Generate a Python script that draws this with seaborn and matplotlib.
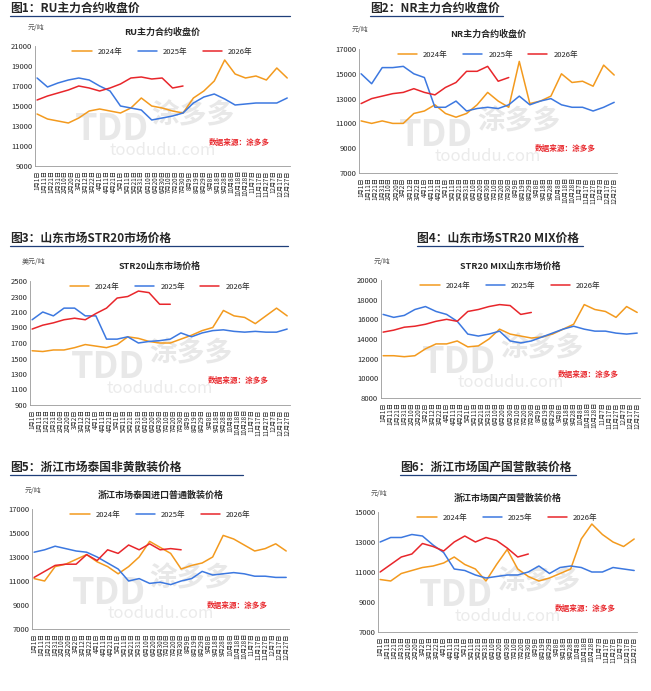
import numpy as np
import pandas as pd
import matplotlib
matplotlib.use("Agg")
import matplotlib.pyplot as plt
import seaborn as sns

sns.set_style("white")
plt.rcParams["font.family"] = ["Noto Sans CJK SC", "DejaVu Sans"]

C24, C25, C26 = "#F39A1E", "#3C78E0", "#E8262B"

# x positions: day of year, sampled every 15 days
DAYS_FULL = list(range(0, 361, 15))

# ── panel data ────────────────────────────────────────────────────────────────
ru_24 = [14200, 13700, 13500, 13300, 13800, 14500, 14700, 14500, 14300, 14800, 15800, 15000, 14800,
         14500, 14300, 15800, 16500, 17500, 19600, 18200, 17800, 18000, 17600, 18800, 17800]
ru_25 = [17800, 16900, 17300, 17600, 17800, 17600, 17000, 16500, 15000, 14800, 14600, 13600, 13800,
         14000, 14300, 15300, 15900, 16200, 15700, 15100, 15200, 15300, 15300, 15300, 15800]
ru_26 = [15600, 16000, 16300, 16600, 17000, 16800, 16500, 16800, 17200, 17800, 17900, 17700, 17800, 16800, 17000]

nr_24 = [11200, 11000, 11200, 11000, 11000, 11800, 12000, 12500, 11800, 11500, 11800, 12500, 13500,
         12800, 12300, 16000, 12600, 12800, 13200, 15000, 14300, 14400, 14000, 15700, 14900]
nr_25 = [15000, 14200, 15500, 15500, 15600, 15000, 14700, 12300, 12300, 12800, 12000, 12200, 12300,
         12200, 12500, 13200, 12500, 12800, 13000, 12500, 12300, 12300, 12000, 12300, 12700]
nr_26 = [12600, 13000, 13200, 13400, 13500, 13800, 13500, 13300, 13900, 14300, 15200, 15200, 15600, 14400, 14700]

str_24 = [1600, 1590, 1610, 1610, 1640, 1680, 1660, 1640, 1680, 1780, 1760, 1720, 1700,
          1700, 1750, 1800, 1860, 1900, 2120, 2050, 2030, 1950, 2050, 2150, 2050]
str_25 = [2000, 2100, 2050, 2150, 2150, 2050, 2050, 1750, 1750, 1780, 1700, 1720, 1730,
          1750, 1830, 1780, 1830, 1860, 1870, 1850, 1840, 1850, 1840, 1840, 1880]
str_26 = [1880, 1930, 1960, 2000, 2020, 2000, 2080, 2150, 2280, 2300, 2370, 2350, 2200, 2200]

mix_24 = [12300, 12300, 12200, 12300, 13000, 13500, 13500, 13800, 13200, 13300, 14000, 15000, 14500,
          14300, 14100, 14200, 14500, 15000, 15500, 17500, 17000, 16800, 16200, 17300, 16700]
mix_25 = [16500, 16200, 16400, 17000, 17300, 16800, 16500, 15800, 14500, 14300, 14500, 14800, 13800,
          13600, 13800, 14200, 14600, 15000, 15300, 15000, 14800, 14800, 14600, 14500, 14600]
mix_26 = [14700, 14900, 15200, 15300, 15500, 15800, 16000, 15800, 16800, 17000, 17300, 17500, 17400, 16500, 16700]

thai_24 = [11200, 11000, 12200, 12400, 12800, 13200, 12600, 12200, 11600, 12200, 13000, 14300, 13800,
           13300, 12000, 12300, 12500, 13000, 14800, 14500, 14000, 13500, 13700, 14100, 13500]
thai_25 = [13400, 13600, 13900, 13700, 13500, 13400, 13000, 12500, 12000, 11000, 11200, 10800, 10900,
           10700, 11000, 11200, 11800, 11500, 11600, 11700, 11600, 11400, 11400, 11300, 11300]
thai_26 = [11300, 11800, 12300, 12400, 12400, 13200, 12700, 13600, 13300, 14000, 13600, 14100, 13600, 13700, 13600]

dom_24 = [10500, 10400, 10900, 11100, 11300, 11400, 11600, 12000, 11500, 11200, 10400, 11500, 12500,
          11200, 10700, 10400, 10600, 10900, 11200, 13200, 14200, 13500, 13000, 12700, 13200]
dom_25 = [13000, 13300, 13300, 13500, 13400, 12800, 12300, 11200, 11100, 10800, 10600, 10700, 10800,
          10800, 11000, 11400, 10900, 11300, 11400, 11300, 11000, 11000, 11300, 11200, 11100]
dom_26 = [11000, 11500, 12000, 12200, 12900, 12700, 12400, 13000, 13400, 13000, 13300, 13100, 12600, 12000, 12200]

TICK_DAYS = list(range(0, 361, 10))
TICK_LABELS = [f"{d.month}月{d.day}日" for d in pd.Timestamp("2025-01-01") + pd.to_timedelta(TICK_DAYS, unit="D")]

PANELS = [
    # fig title, inner title, unit, series, ylim, step, axes rect(px: l, t, r, b), title pos, underline end
    ("图1：RU主力合约收盘价", "RU主力合约收盘价", "元/吨", (ru_24, ru_25, ru_26), (9000, 21000), 2000,
     (35, 46, 290, 166), (10, 8), 290),
    ("图2：NR主力合约收盘价", "NR主力合约收盘价", "元/吨", (nr_24, nr_25, nr_26), (7000, 17000), 2000,
     (359, 49, 617, 173), (370, 8), 503),
    ("图3：山东市场STR20市场价格", "STR20山东市场价格", "美元/吨", (str_24, str_25, str_26), (900, 2500), 200,
     (30, 281, 290, 405), (10, 238), 288),
    ("图4：山东市场STR20 MIX价格", "STR20 MIX山东市场价格", "元/吨", (mix_24, mix_25, mix_26), (8000, 20000), 2000,
     (381, 280, 640, 398), (417, 238), 583),
    ("图5：浙江市场泰国非黄散装价格", "浙江市场泰国进口普通散装价格", "元/吨", (thai_24, thai_25, thai_26), (7000, 17000), 2000,
     (32, 509, 289, 629), (10, 467), 243),
    ("图6：浙江市场国产国营散装价格", "浙江市场国产国营散装价格", "元/吨", (dom_24, dom_25, dom_26), (7000, 15000), 2000,
     (378, 512, 637, 632), (400, 467), 576),
]

W, H = 651, 691
fig = plt.figure(figsize=(W / 100, H / 100), dpi=100)

for title, inner, unit, (s24, s25, s26), ylim, step, (l, t, r, b), (tx, ty), uline in PANELS:
    ax = fig.add_axes([l / W, 1 - b / H, (r - l) / W, (b - t) / H])
    # watermark
    ax.text(0.3, 0.3, "TDD", transform=ax.transAxes, fontsize=26, fontweight="bold",
            color="#e8e8e8", ha="center", va="center", zorder=0)
    ax.text(0.62, 0.42, "涂多多", transform=ax.transAxes, fontsize=20, fontweight="bold",
            color="#e8e8e8", ha="center", va="center", zorder=0)
    ax.text(0.5, 0.13, "toodudu.com", transform=ax.transAxes, fontsize=12,
            color="#ebebeb", ha="center", va="center", zorder=0)
    sns.lineplot(x=DAYS_FULL[:len(s24)], y=s24, ax=ax, color=C24, lw=1.1, label="2024年")
    sns.lineplot(x=DAYS_FULL[:len(s25)], y=s25, ax=ax, color=C25, lw=1.1, label="2025年")
    sns.lineplot(x=DAYS_FULL[:len(s26)], y=s26, ax=ax, color=C26, lw=1.1, label="2026年")
    ax.set_xlim(-3, 364)
    ax.set_ylim(*ylim)
    ax.set_yticks(np.arange(ylim[0], ylim[1] + 1, step))
    ax.tick_params(axis="y", labelsize=5.5, length=0, pad=2)
    ax.set_xticks(TICK_DAYS)
    ax.set_xticklabels(TICK_LABELS, rotation=90, fontsize=4.5)
    ax.tick_params(axis="x", length=2, pad=1)
    for sp in ["top", "right"]:
        ax.spines[sp].set_visible(False)
    for sp in ["left", "bottom"]:
        ax.spines[sp].set_color("#999999")
        ax.spines[sp].set_linewidth(0.6)
    ax.legend(loc="upper center", bbox_to_anchor=(0.5, 1.04), ncol=3, frameon=False,
              fontsize=5.5, handlelength=2.5, columnspacing=2)
    ax.text(0.5, 1.08, inner, transform=ax.transAxes, ha="center", va="bottom",
            fontsize=6.5, fontweight="bold")
    ax.text(0.8, 0.2, "数据来源：涂多多", transform=ax.transAxes, ha="center", va="center",
            fontsize=5.5, color="#e8262b", style="italic", fontweight="bold")
    ax.text(-0.03, 1.12, unit, transform=ax.transAxes, ha="left", va="bottom",
            fontsize=5, color="#555555")
    ax.set_xlabel("")
    ax.set_ylabel("")
    # panel title with underline
    fig.text(tx / W, 1 - ty / H, title, ha="left", va="center", fontsize=8.5, fontweight="bold")
    fig.add_artist(plt.Line2D([tx / W, uline / W], [1 - (ty + 8) / H] * 2, color="#1f3f7a", lw=0.9))

fig.savefig("out.png", dpi=100)
